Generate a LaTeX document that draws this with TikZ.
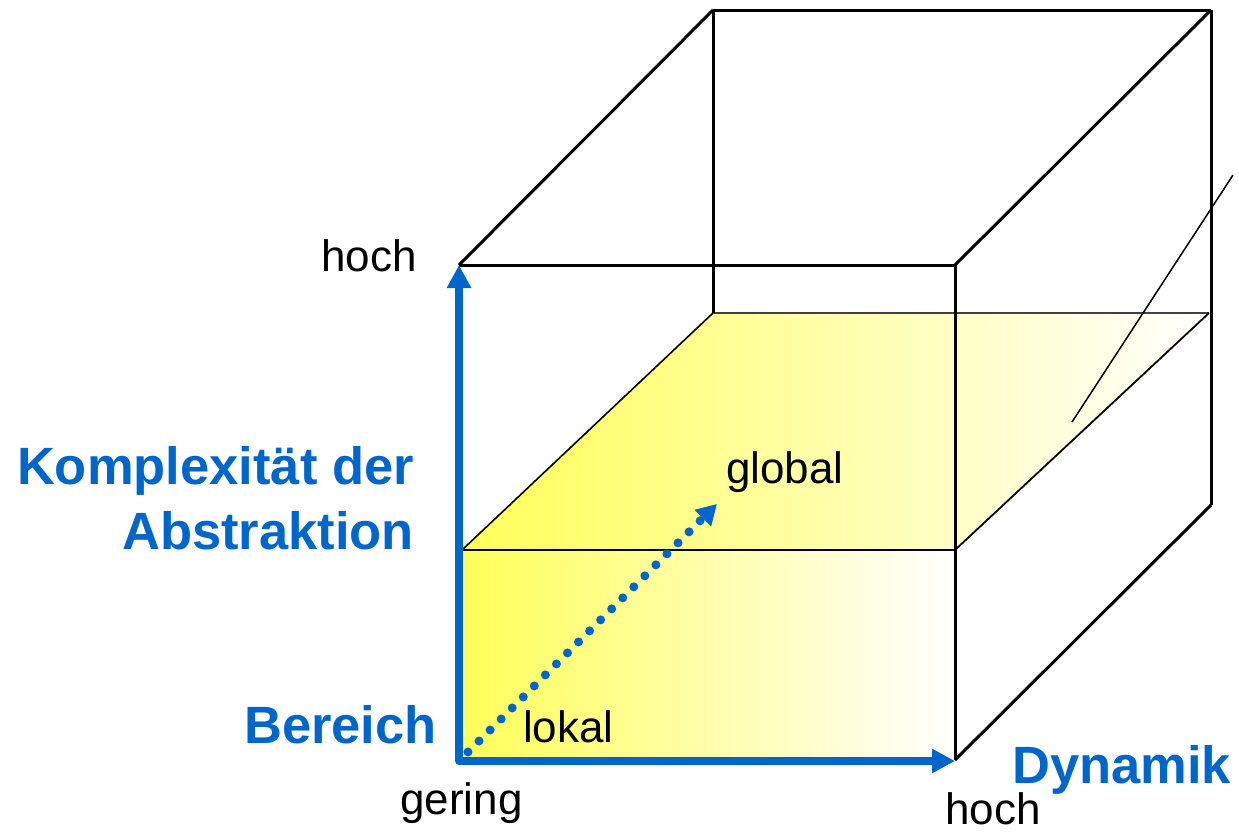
\documentclass[tikz,border=0pt]{standalone}
\usepackage{fontspec}
\setmainfont{Liberation Sans}
\usetikzlibrary{arrows.meta}
\definecolor{axblue}{RGB}{0,102,204}
\definecolor{layyellow}{RGB}{255,255,90}
\tikzset{
  edge/.style={black, line width=3pt},
  axis/.style={axblue, line width=7.5pt, line join=round,
    arrows={Triangle[length=23pt,width=23pt]-Triangle[length=23pt,width=23pt]}},
  dotarrow/.style={axblue, line width=9pt, line cap=round, dash pattern=on 0pt off 15.6pt,
    -{Triangle[length=20pt,width=22pt]}},
  lbl/.style={inner sep=0pt, font=\fontsize{44}{48}\selectfont},
  blbl/.style={inner sep=0pt, text=axblue, font=\fontsize{52.5}{56}\selectfont\bfseries},
}
\begin{document}
\begin{tikzpicture}[x=1pt,y=-1pt]
\useasboundingbox (0,0) rectangle (1239,833);
% corners
\coordinate (FTL) at (459,265);
\coordinate (FTR) at (955,265);
\coordinate (FBL) at (459,760);
\coordinate (FBR) at (955,760);
\coordinate (BTL) at (713,10);
\coordinate (BTR) at (1211,10);
\coordinate (BBR) at (1211,505);
% layer
\coordinate (LFL) at (462,550);
\coordinate (LFR) at (955,550);
\coordinate (LBL) at (713,313);
\coordinate (LBR) at (1209,313);
\coordinate (LBotL) at (462,760);
\coordinate (LBotR) at (955,760);
% layer fills
\shade[left color=layyellow, right color=white] (LFL) -- (LBL) -- (LBR) -- (LFR) -- cycle;
\shade[left color=layyellow, right color=white] (LFL) rectangle (LBotR);
% layer edges
\draw[black, line width=1.6pt] (LFL) -- (LBL);
\draw[black!75, line width=2pt] (LBL) -- (LBR);
\draw[black, line width=1.8pt] (LFR) -- (LBR);
\draw[black, line width=2.5pt] (LFL) -- (LFR);
\draw[black, line width=2pt] (LFL) -- (LBotL);
% cube edges
\draw[edge] (FTL) -- (BTL);
\draw[edge] (BTL) -- (BTR);
\draw[edge] (BTL) -- (LBL);
\draw[edge] (FTR) -- (BTR);
\draw[edge] (BTR) -- (BBR);
\draw[edge] (FBR) -- (BBR);
\draw[edge] (FTL) -- (FTR);
\draw[edge] (FTR) -- (FBR);
% leader line
\coordinate (LeadA) at (1233,175);
\coordinate (LeadB) at (1072,422);
\draw[black, line width=1.5pt] (LeadA) -- (LeadB);
% axes
\coordinate (O) at (459,761);
\coordinate (VT) at (459,265);
\coordinate (HT) at (955,761);
\draw[axis] (VT) -- (O) -- (HT);
\coordinate (DS) at (468,752);
\coordinate (DE) at (717,504);
\draw[dotarrow] (DS) -- (DE);
% labels
\node[lbl, anchor=base west] (hochV) at (321,271) {hoch};
\node[blbl, anchor=base east] (kompl) at (414,484) {Komplexität der};
\node[blbl, anchor=base east] (abstr) at (414,549) {Abstraktion};
\node[blbl, anchor=base west] (ber) at (244,743) {Bereich};
\node[lbl, anchor=base west] (lokal) at (523,742) {lokal};
\node[lbl, anchor=base west] (gering) at (400,814) {gering};
\node[lbl, anchor=base west] (global) at (726,483) {global};
\node[blbl, anchor=base west] (dyn) at (1012,783) {Dynamik};
\node[lbl, anchor=base west] (hochH) at (945,824) {hoch};
\end{tikzpicture}
\end{document}
